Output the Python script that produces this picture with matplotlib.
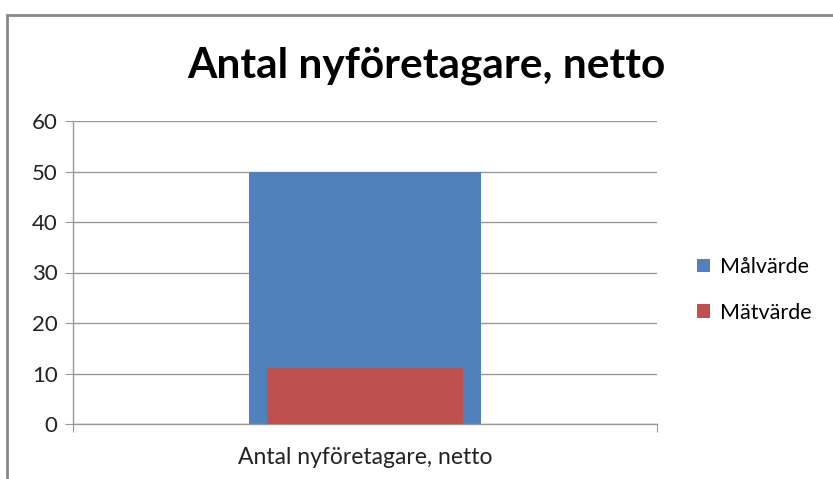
import matplotlib.pyplot as plt
from matplotlib.patches import Rectangle

categories = ["Antal nyföretagare, netto"]
series_names = ["Målvärde", "Mätvärde"]
malvarde = [50]
matvarde = [11]
colors = ["#4f81bd", "#c0504d"]

plt.rcParams['font.family'] = ['Lato', 'DejaVu Sans']

fig = plt.figure(figsize=(8.33, 4.79), dpi=100)
ax = fig.add_axes([73/833, 1-424/479, 584/833, 303/479])

x = list(range(len(categories)))
ax.bar(x, malvarde, width=0.397, color=colors[0], label=series_names[0], zorder=2)
ax.bar(x, matvarde, width=0.334, color=colors[1], label=series_names[1], zorder=3)

ax.set_xlim(-0.5, 0.5)
ax.set_ylim(0, 60)
ax.set_yticks(range(0, 61, 10))
ax.set_xticks([-0.5, 0.5])
ax.set_xticklabels(["", ""])
ax.tick_params(axis='x', length=6, color='#999999')
ax.tick_params(axis='y', length=6, color='#999999', labelsize=16, pad=5)
for lab in ax.get_yticklabels():
    lab.set_color('#222222')
ax.yaxis.grid(True, color='#999999', lw=1, zorder=0)
for s in ['top', 'right']:
    ax.spines[s].set_visible(False)
for s in ['left', 'bottom']:
    ax.spines[s].set_color('#999999')
    ax.spines[s].set_linewidth(1)

ax.text(0, -0.11, categories[0], transform=ax.get_xaxis_transform(), ha='center', va='center', fontsize=16.5, color='#222222')

fig.text(426/833, 1-66/479, "Antal nyföretagare, netto", ha='center', va='center', fontsize=30.5, fontweight='bold', color='black')

handles, labels = ax.get_legend_handles_labels()
fig.legend(handles, labels, loc='center left', bbox_to_anchor=(678/833, 1-290/479), frameon=False, fontsize=15.5,
           handlelength=0.6, handleheight=0.6, handletextpad=0.45, labelspacing=1.2)

fig.patches.append(Rectangle((7/833, -0.1), 1.2, 1.1-15/479, transform=fig.transFigure, fill=False,
                             edgecolor='#888888', lw=2))

fig.savefig("out.png", dpi=100)
